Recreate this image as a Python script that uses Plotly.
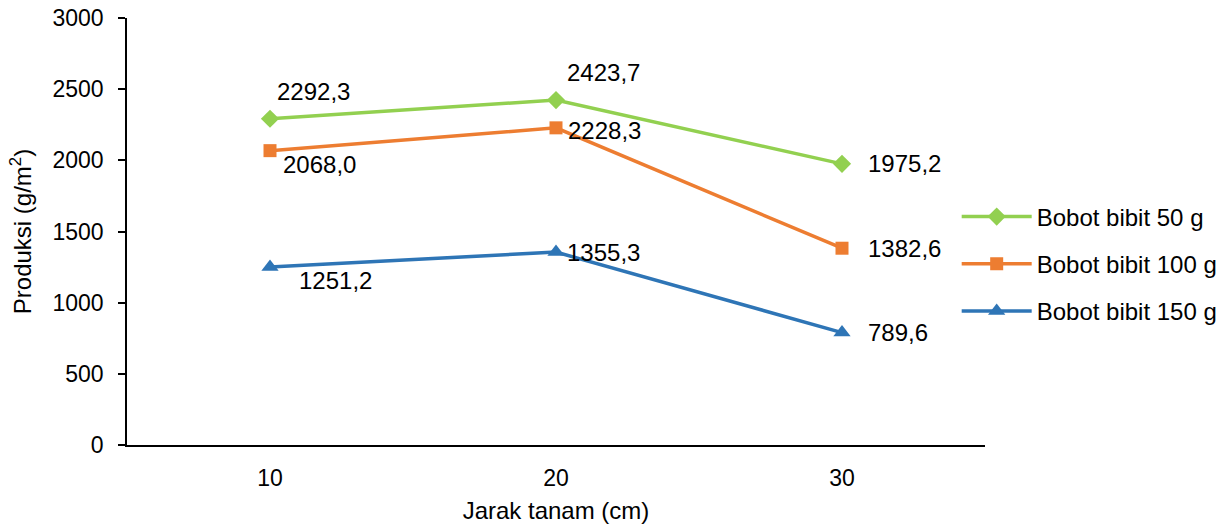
import plotly.graph_objects as go

# Planting distance categories (cm)
jarak = ["10", "20", "30"]

# Yield (g/m2) per seed weight
bobot_50 = [2292.3, 2423.7, 1975.2]
bobot_100 = [2068.0, 2228.3, 1382.6]
bobot_150 = [1251.2, 1355.3, 789.6]

y_ticks = [0, 500, 1000, 1500, 2000, 2500, 3000]

FONT = "Liberation Sans, Arial, sans-serif"
FS = 24
TICK_FS = 23

x_pos = list(range(len(jarak)))

series = [
    ("Bobot bibit 50 g", bobot_50, "#92D050", "diamond", 14,
     [(5, 27), (9, 28), (24, 0)]),
    ("Bobot bibit 100 g", bobot_100, "#ED7D31", "square", 13,
     [(11, -14), (10, -3), (24, 0)]),
    ("Bobot bibit 150 g", bobot_150, "#2E75B6", "triangle-up", 15,
     [(27, -14), (9, 0), (24, 0)]),
]

fig = go.Figure()
annotations = []
for i, (name, vals, color, symbol, msize, offsets) in enumerate(series):
    fig.add_trace(go.Scatter(
        x=x_pos, y=vals, name=name, mode="lines+markers",
        line=dict(color=color, width=3.5),
        marker=dict(symbol=symbol, size=msize, color=color),
        legendgroup=f"g{i}",
    ))
    for xc, v, (dx, dy) in zip(x_pos, vals, offsets):
        annotations.append(dict(
            x=xc, y=v, xref="x", yref="y",
            text=f"{v:.1f}".replace(".", ","),
            showarrow=False, xanchor="left", yanchor="middle",
            xshift=dx, yshift=dy,
            font=dict(family=FONT, size=FS, color="black"),
        ))

fig.update_layout(
    width=1222, height=524,
    margin=dict(l=127, r=237, t=18, b=79, autoexpand=False),
    paper_bgcolor="white", plot_bgcolor="white",
    font=dict(family=FONT, size=FS, color="black"),
    showlegend=True,
    legend=dict(
        x=0.967, xanchor="left", y=0.424, yanchor="middle",
        xref="paper", yref="paper",
        itemwidth=70, tracegroupgap=13,
        font=dict(family=FONT, size=FS, color="black"),
        bgcolor="rgba(0,0,0,0)",
    ),
    annotations=annotations,
    xaxis=dict(
        range=[-0.5, 2.5], tickvals=x_pos, ticktext=jarak,
        showline=True, linecolor="black", linewidth=1.5,
        showgrid=False, ticks="", zeroline=False, automargin=False,
        ticklabelstandoff=12,
        title=dict(text="Jarak tanam (cm)", standoff=22,
                   font=dict(family=FONT, size=FS)),
        tickfont=dict(family=FONT, size=TICK_FS),
    ),
    yaxis=dict(
        range=[0, 3000], tickvals=y_ticks,
        showline=True, linecolor="black", linewidth=1.5,
        showgrid=False, zeroline=False, automargin=False,
        ticks="outside", ticklen=7, tickcolor="black", tickwidth=1.5,
        ticklabelstandoff=10,
        title=dict(text="Produksi (g/m<sup>2</sup>)", standoff=14,
                   font=dict(family=FONT, size=FS)),
        tickfont=dict(family=FONT, size=TICK_FS),
    ),
)

fig.write_html("out.html")
